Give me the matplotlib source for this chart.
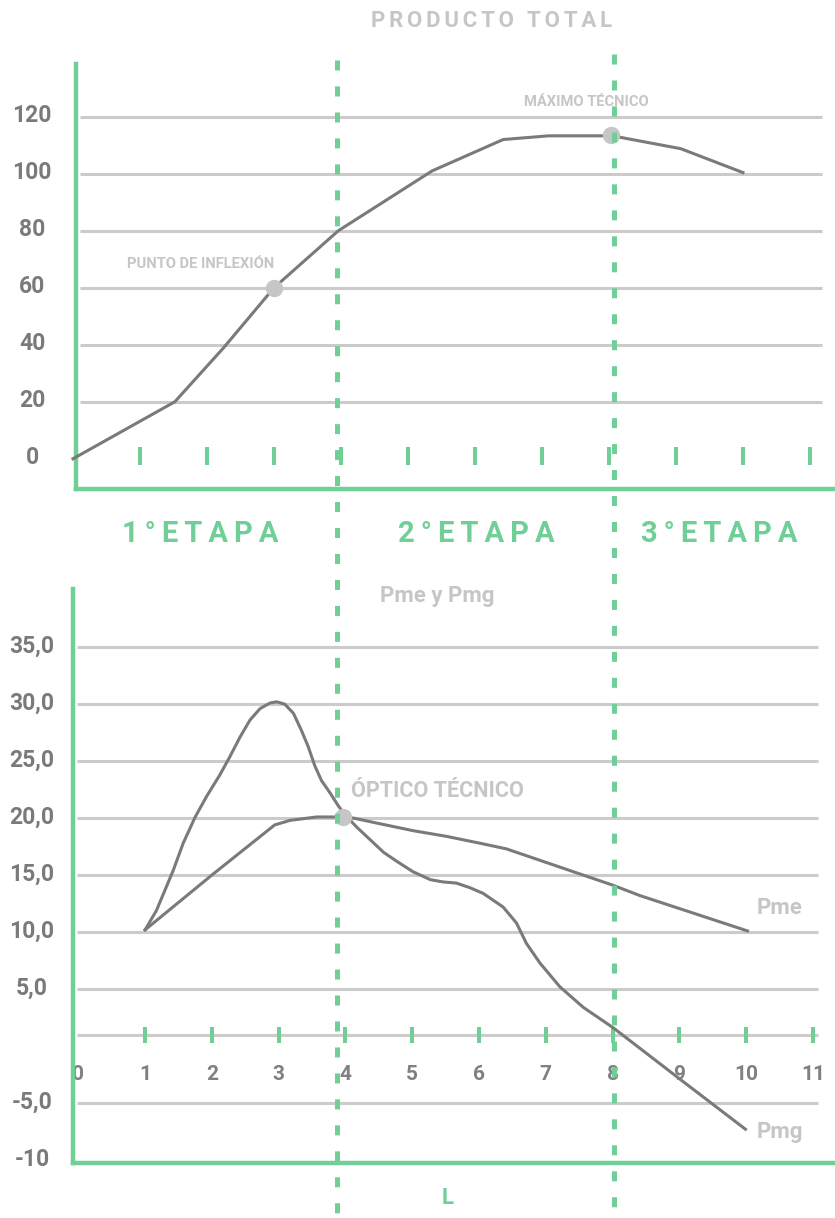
import numpy as np
import matplotlib
matplotlib.use('Agg')
import matplotlib.pyplot as plt
from matplotlib.lines import Line2D
from matplotlib.transforms import blended_transform_factory, ScaledTranslation

plt.rcParams['font.family'] = ['Roboto', 'DejaVu Sans']
plt.rcParams['font.weight'] = 'bold'
plt.rcParams['lines.scale_dashes'] = False

# colores
verde = '#6fcf97'
gris_curva = '#7a7a7a'
gris_texto = '#7a7a7a'
gris_claro = '#c6c6c6'
gris_grid = '#cbcbcb'

# Producto total
pt_L = [0, 1.52, 2.25, 3.0, 3.96, 5.36, 6.42, 7.1, 8.05, 9.07, 10.0]
pt_Q = [0, 20, 39, 60, 80, 101, 112, 113.3, 113.3, 108.8, 100.4]
pt_yticks = [0, 20, 40, 60, 80, 100, 120]
pt_grid = [20, 40, 60, 80, 100, 120]
punto_inflexion = (3.0, 60)
maximo_tecnico = (8.03, 113.7)

# Producto medio y marginal
pme_L = [1.0, 2.02, 2.94, 3.17, 3.57, 3.97, 4.12, 4.52, 5.01, 5.51, 6.01, 6.41, 8.01, 8.41, 10.02]
pme_Q = [10.2, 15.1, 19.4, 19.8, 20.1, 20.1, 20.0, 19.5, 18.9, 18.4, 17.8, 17.3, 14.1, 13.2, 10.1]
pmg_L = [1.0, 1.17, 1.32, 1.42, 1.57, 1.75, 1.92, 2.12, 2.27, 2.42, 2.57, 2.72,
         2.87, 2.97, 3.09, 3.22, 3.34, 3.44, 3.54, 3.64, 3.77, 3.89, 3.99, 4.17,
         4.37, 4.57, 4.77, 5.01, 5.27, 5.46, 5.66, 5.86, 6.06, 6.36, 6.56, 6.71,
         6.91, 7.21, 7.56, 8.01, 8.21, 9.03, 9.99]
pmg_Q = [10.2, 11.9, 14.0, 15.4, 17.8, 20.1, 21.9, 23.8, 25.4, 27.1, 28.6, 29.6,
         30.1, 30.2, 30.0, 29.2, 27.7, 26.3, 24.6, 23.3, 22.2, 21.1, 20.3, 19.2,
         18.1, 17.0, 16.2, 15.3, 14.6, 14.4, 14.3, 13.9, 13.4, 12.2, 10.8, 9.0,
         7.3, 5.2, 3.4, 1.6, 0.7, -3.0, -7.3]
optimo_tecnico = (3.97, 20.1)
p_yticks = [35, 30, 25, 20, 15, 10, 5, -5, -10]
p_ylabels = ['35,0', '30,0', '25,0', '20,0', '15,0', '10,0', '5,0', '-5,0', '-10']
p_grid = [35, 30, 25, 20, 15, 10, 5, 1.0, -5]
fila_ticks = 1.0
L_ticks = list(range(0, 12))

etapas = ['1°ETAPA', '2°ETAPA', '3°ETAPA']
limites_etapa = [3.94, 8.07]


def espaciar(s, sep='\u2009'):
    return sep.join(list(s))


fig = plt.figure(figsize=(8.35, 12.18), dpi=100)
W, H = 835, 1218

# ---- panel superior: producto total
ax1 = fig.add_axes([76 / W, 1 - 489 / H, (W - 76) / W, (489 - 64) / H])
ax1.set_xlim(0.045, 11.373)
ax1.set_ylim(-10.6, 138.5)
ax1.hlines(pt_grid, 0.1, 11.18, color=gris_grid, lw=2.2, zorder=1)
ax1.vlines(L_ticks[1:], -2.2, 4.1, color=verde, lw=2.9, zorder=2)
ax1.plot(pt_L, pt_Q, color=gris_curva, lw=2.2, zorder=3, clip_on=False)
ax1.plot(*punto_inflexion, 'o', color=gris_claro, ms=11.5, zorder=4)
ax1.plot(*maximo_tecnico, 'o', color=gris_claro, ms=11.5, zorder=4)
ax1.text(1.91, 68.3, 'PUNTO DE INFLEXIÓN', color=gris_claro, fontsize=10.6,
         ha='center', va='center')
ax1.text(7.66, 125.1, 'MÁXIMO TÉCNICO', color=gris_claro, fontsize=10.6,
         ha='center', va='center')
ax1.set_yticks(pt_yticks)
ax1.set_yticklabels([str(v) for v in pt_yticks])
ax1.set_xticks([])

# ---- panel inferior: Pme y Pmg
ax2 = fig.add_axes([73 / W, 1 - 1163 / H, (W - 73) / W, (1163 - 589) / H])
ax2.set_xlim(-0.08, 11.33)
ax2.set_ylim(-10.26, 40.1)
ax2.hlines(p_grid, -0.02, 11.07, color=gris_grid, lw=2.2, zorder=1)
ax2.vlines(L_ticks[1:], fila_ticks - 0.75, fila_ticks + 0.7, color=verde, lw=2.9, zorder=2)
ax2.plot(pme_L, pme_Q, color=gris_curva, lw=2.2, zorder=3)
ax2.plot(pmg_L, pmg_Q, color=gris_curva, lw=2.2, zorder=3)
ax2.plot(*optimo_tecnico, 'o', color=gris_claro, ms=11.5, zorder=4)
for v in L_ticks:
    ax2.text(v, -2.5, str(v), color='#808080', fontsize=15, ha='center', va='center', zorder=0)
ax2.text(5.37, 39.5, 'Pme y Pmg', color=gris_claro, fontsize=16, ha='center', va='center')
ax2.text(5.37, 22.4, 'ÓPTICO TÉCNICO', color=gris_claro, fontsize=15.6, ha='center', va='center')
ax2.text(10.5, 12.1, 'Pme', color=gris_claro, fontsize=16, ha='center', va='center')
ax2.text(10.5, -7.5, 'Pmg', color=gris_claro, fontsize=16, ha='center', va='center')
ax2.text(5.53, -13.3, 'L', color=verde, fontsize=16, ha='center', va='center', clip_on=False)
ax2.set_yticks(p_yticks)
ax2.set_yticklabels(p_ylabels)
ax2.set_xticks([])

subir = ScaledTranslation(0, 3.5 / 100, fig.dpi_scale_trans)
for ax, pad in [(ax1, 31.7), (ax2, 29.5)]:
    for s in ['top', 'right']:
        ax.spines[s].set_visible(False)
    for s in ['left', 'bottom']:
        ax.spines[s].set_color(verde)
        ax.spines[s].set_linewidth(3.2)
    ax.tick_params(axis='y', length=0, pad=pad, labelsize=16.5, labelcolor=gris_texto)
    for lab in ax.get_yticklabels():
        lab.set_horizontalalignment('center')
        lab.set_transform(lab.get_transform() + subir)
    ax.set_facecolor('none')

# lineas de etapa (cruzan toda la figura)
trans = blended_transform_factory(ax1.transData, fig.transFigure)
for x, top in zip(limites_etapa, [60, 54]):
    fig.add_artist(Line2D([x, x], [1 - top / H, 0], transform=trans, color=verde,
                          lw=3.6, dashes=(7.2, 11.5), zorder=5))

fig.text(492 / W, 1 - 21 / H, espaciar('PRODUCTO TOTAL', '\u2006'), color=gris_claro,
         fontsize=16, ha='center', va='center')
for nombre, xc in zip(etapas, [200, 476, 719]):
    fig.text(xc / W, 1 - 534 / H, espaciar(nombre), color=verde, fontsize=21,
             ha='center', va='center')

fig.savefig('out.png', dpi=100, facecolor='white')
